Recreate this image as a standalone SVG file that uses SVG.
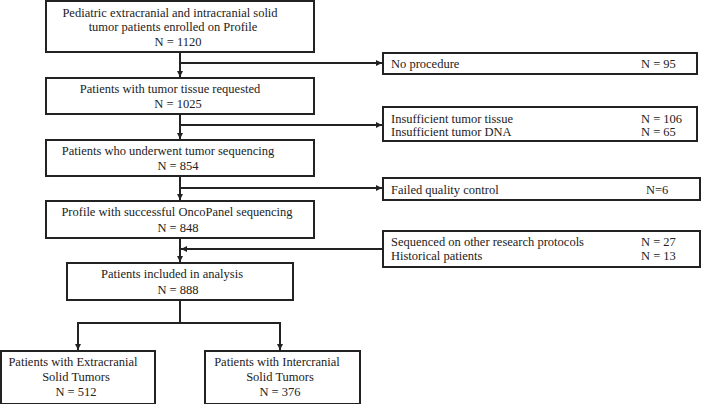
<svg xmlns="http://www.w3.org/2000/svg" width="701" height="404" viewBox="0 0 701 404">
<style>
.box{fill:#fff;stroke:#222;stroke-width:2}
.ln{fill:none;stroke:#222;stroke-width:2}
text{font-family:"Liberation Serif","Times New Roman",serif;font-size:12.5px;fill:#222}
.c{text-anchor:middle}
</style>
<defs>
<marker id="ah" markerWidth="8" markerHeight="8" refX="6" refY="4" orient="auto" markerUnits="userSpaceOnUse">
<path d="M0,1 L6,4 L0,7 Z" fill="#222"/>
</marker>
</defs>
<rect width="701" height="404" fill="#fff"/>
<g id="connectors">
<path class="ln" d="M180,52 V77" marker-end="url(#ah)"/>
<path class="ln" d="M180,63 H382" marker-end="url(#ah)"/>
<path class="ln" d="M180,114 V139" marker-end="url(#ah)"/>
<path class="ln" d="M180,125 H382" marker-end="url(#ah)"/>
<path class="ln" d="M180,176 V200" marker-end="url(#ah)"/>
<path class="ln" d="M180,188 H382" marker-end="url(#ah)"/>
<path class="ln" d="M180,238 V262" marker-end="url(#ah)"/>
<path class="ln" d="M383,249 H181" marker-end="url(#ah)"/>
<path class="ln" d="M180,300 V323"/>
<path class="ln" d="M78,323 H280"/>
<path class="ln" d="M78,322 V350" marker-end="url(#ah)"/>
<path class="ln" d="M280,322 V350" marker-end="url(#ah)"/>
</g>
<g id="n1"><rect class="box" x="46" y="1" width="268" height="51"/>
<text class="c" x="170" y="17">Pediatric extracranial and intracranial solid</text>
<text class="c" x="173" y="31">tumor patients enrolled on Profile</text>
<text class="c" x="178" y="46">N = 1120</text></g>
<g id="n2"><rect class="box" x="46" y="78" width="268" height="36"/>
<text class="c" x="170" y="93">Patients with tumor tissue requested</text>
<text class="c" x="178" y="108">N = 1025</text></g>
<g id="n3"><rect class="box" x="46" y="140" width="268" height="36"/>
<text class="c" x="168" y="155">Patients who underwent tumor sequencing</text>
<text class="c" x="178" y="170">N = 854</text></g>
<g id="n4"><rect class="box" x="46" y="201" width="268" height="37"/>
<text class="c" x="177" y="216">Profile with successful OncoPanel sequencing</text>
<text class="c" x="178" y="232">N = 848</text></g>
<g id="n5"><rect class="box" x="67" y="263" width="226" height="37"/>
<text class="c" x="172" y="278">Patients included in analysis</text>
<text class="c" x="178" y="294">N = 888</text></g>
<g id="n6"><rect class="box" x="1" y="351" width="154" height="53"/>
<text class="c" x="73" y="366">Patients with Extracranial</text>
<text class="c" x="76" y="381">Solid Tumors</text>
<text class="c" x="76" y="396">N = 512</text></g>
<g id="n7"><rect class="box" x="205" y="351" width="155" height="53"/>
<text class="c" x="277" y="366">Patients with Intercranial</text>
<text class="c" x="280" y="381">Solid Tumors</text>
<text class="c" x="280" y="396">N = 376</text></g>
<g id="e1"><rect class="box" x="383" y="53" width="314" height="21"/>
<text x="391" y="68">No procedure</text><text x="641" y="68">N = 95</text></g>
<g id="e2"><rect class="box" x="383" y="107" width="314" height="34"/>
<text x="391" y="123">Insufficient tumor tissue</text><text x="641" y="123">N = 106</text>
<text x="391" y="136">Insufficient tumor DNA</text><text x="641" y="136">N = 65</text></g>
<g id="e3"><rect class="box" x="383" y="178" width="317" height="22"/>
<text x="391" y="194">Failed quality control</text><text x="646" y="194">N=6</text></g>
<g id="e4"><rect class="box" x="383" y="231" width="317" height="36"/>
<text x="391" y="246">Sequenced on other research protocols</text><text x="641" y="246">N = 27</text>
<text x="391" y="260">Historical patients</text><text x="641" y="260">N = 13</text></g>
</svg>
